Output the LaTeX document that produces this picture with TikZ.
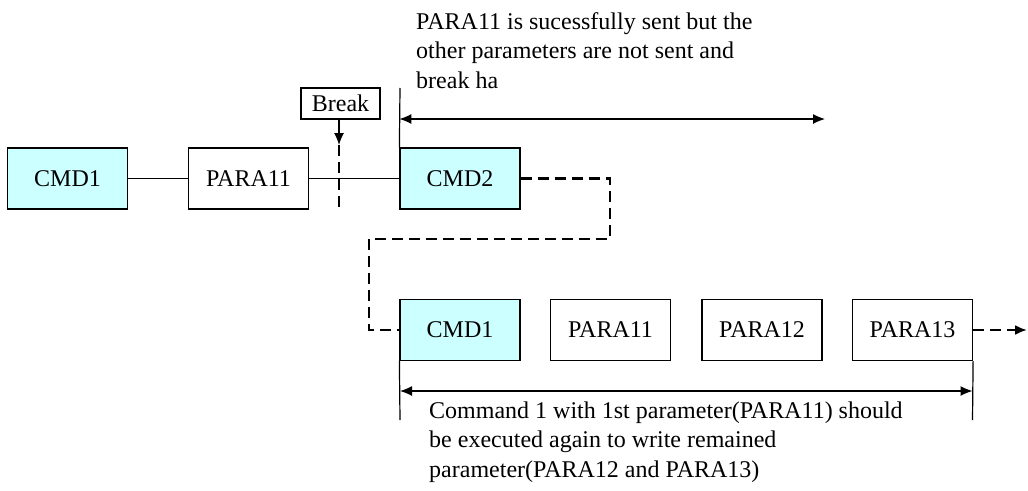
\documentclass[tikz,border=0pt]{standalone}
\usepackage{fontspec}
\setmainfont{Liberation Serif}
\usetikzlibrary{arrows.meta}
\definecolor{cmdfill}{HTML}{CCFFFF}
\begin{document}
\begin{tikzpicture}[x=1pt,y=-1pt,
  box/.style={draw,line width=1.2pt,minimum width=120pt,minimum height=61pt,inner sep=0pt,font=\fontsize{24}{29}\selectfont},
  cmd/.style={box,fill=cmdfill},
  label/.style={draw,line width=1.2pt,minimum width=79pt,minimum height=31pt,inner sep=0pt,font=\fontsize{24}{29}\selectfont},
  conn/.style={line width=1.2pt},
  dashconn/.style={line width=2.2pt,dash pattern=on 11pt off 6pt},
  tip/.style={-{Latex[length=12pt,width=10pt]}},
  dtip/.style={{Latex[length=12pt,width=10pt]}-{Latex[length=12pt,width=10pt]}},
  note/.style={align=left,inner sep=0pt,anchor=base west,font=\fontsize{24}{29.5}\selectfont}]
\useasboundingbox (0,0) rectangle (1028,490);
% top row
\node[cmd]  (cmdA)  at (67.5,178.5) {CMD1};
\node[box]  (paraA) at (248.5,178.5) {PARA11};
\node[cmd]  (cmdB)  at (460,178.5) {CMD2};
\node[label] (brk)  at (340.5,103.5) {Break};
\draw[conn] (cmdA) -- (paraA);
\draw[conn] (paraA) -- (cmdB);
\coordinate (brktip) at (339,145);
\coordinate (brkend) at (339,211);
\draw[conn,tip] (brk.south -| brktip) -- (brktip);
\draw[dashconn] (brktip) -- (brkend);
% top dimension
\coordinate (topL) at (400,88);
\coordinate (arrR) at (825,119);
\draw[conn] (topL) -- (cmdB.north west);
\draw[conn,dtip] (arrR -| cmdB.west) -- (arrR);
\node[note] (topnote) at (416,88) {PARA11 is sucessfully sent but the\\other parameters are not sent and\\break ha};
% bottom row
\node[cmd] (cmdC)  at (460,330) {CMD1};
\node[box] (paraB) at (610.5,330) {PARA11};
\node[box] (paraC) at (762,330) {PARA12};
\node[box] (paraD) at (912.5,330) {PARA13};
\coordinate (bend1) at (610,178.5);
\coordinate (bend2) at (610,239);
\coordinate (bend3) at (369,239);
\coordinate (bend4) at (369,330);
\draw[dashconn] (cmdB.east) -- (bend1) -- (bend2) -- (bend3) -- (bend4) -- (cmdC.west);
\coordinate (outR) at (1027,330);
\draw[dashconn,tip] (paraD.east) -- (outR);
% bottom dimension
\coordinate (botL) at (400,420);
\coordinate (botR) at (972.5,420);
\coordinate (dimL) at (400,391);
\coordinate (dimR) at (972.5,391);
\draw[conn] (cmdC.south west) -- (botL);
\draw[conn] (paraD.south east) -- (botR);
\draw[conn,dtip] (dimL) -- (dimR);
\node[note] (botnote) at (429,477) {Command 1 with 1st parameter(PARA11) should\\be executed again to write remained\\parameter(PARA12 and PARA13)};
\end{tikzpicture}
\end{document}
